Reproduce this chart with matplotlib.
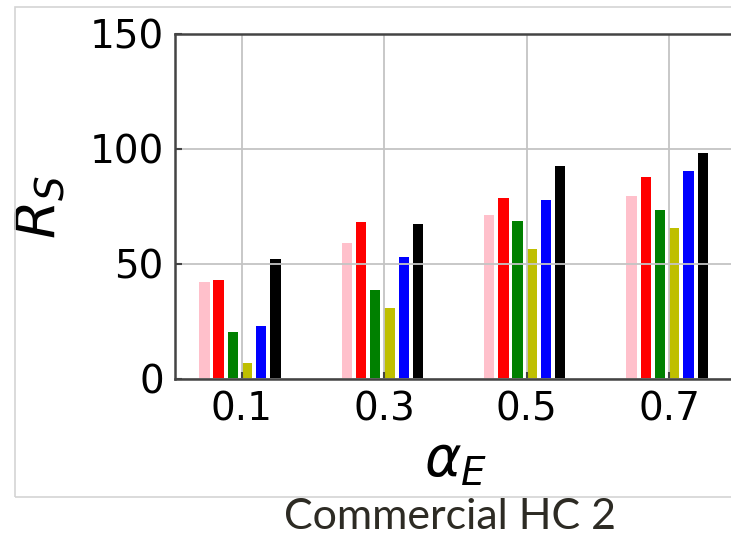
import matplotlib
matplotlib.use("Agg")
import matplotlib.pyplot as plt
from matplotlib.patches import Rectangle

# Energy share values and scores for each of the six configurations
alpha_e = [0.1, 0.3, 0.5, 0.7]
tick_labels = ["0.1", "0.3", "0.5", "0.7"]
series_pink = [42.3, 59.3, 71.3, 79.7]
series_red = [43.0, 68.4, 78.6, 87.7]
series_green = [20.3, 38.7, 68.7, 73.5]
series_yellow = [6.8, 30.9, 56.5, 65.8]
series_blue = [23.2, 52.9, 77.8, 90.6]
series_black = [52.2, 67.3, 92.8, 98.3]

series = [series_pink, series_red, series_green, series_yellow, series_blue, series_black]
colors = ["pink", "red", "green", "y", "blue", "black"]

W, H = 731, 535
fig = plt.figure(figsize=(W / 100, H / 100), dpi=100)

# light frame around the panel
fig.patches.append(Rectangle((15 / W, 1 - 497 / H), (745 - 15) / W, (497 - 7) / H,
                             transform=fig.transFigure, fill=False,
                             edgecolor="#d4d4d4", linewidth=1.2, zorder=0))

ax = fig.add_axes([175 / W, 1 - 379 / H, (736 - 175) / W, (379 - 34) / H])

step = 0.02
width = 0.0145
for i, (vals, c) in enumerate(zip(series, colors)):
    xs = [a + (i - 3) * step for a in alpha_e]
    ax.bar(xs, vals, width=width, align="edge", color=c, linewidth=0)

ax.set_xlim(0.006, 0.794)
ax.set_ylim(0, 150)
ax.set_yticks([0, 50, 100, 150])
ax.set_xticks(alpha_e)
ax.set_xticklabels(tick_labels)
ax.grid(True, color="#c4c4c4", linewidth=1.3)
ax.tick_params(direction="in", labelsize=28, length=5, width=1.5, colors="#444444",
               labelcolor="black", pad=8)
for s in ax.spines.values():
    s.set_color("#444444")
    s.set_linewidth(1.8)

ax.set_ylabel(r"$R_S$", fontsize=40, labelpad=16)
ax.set_xlabel(r"$\alpha_E$", fontsize=40, labelpad=4)

fig.text(450 / W, 1 - 517 / H, "Commercial HC 2", fontsize=31, family="Lato",
         color="#2d2b24", ha="center", va="center")

fig.savefig("out.png", dpi=100)
